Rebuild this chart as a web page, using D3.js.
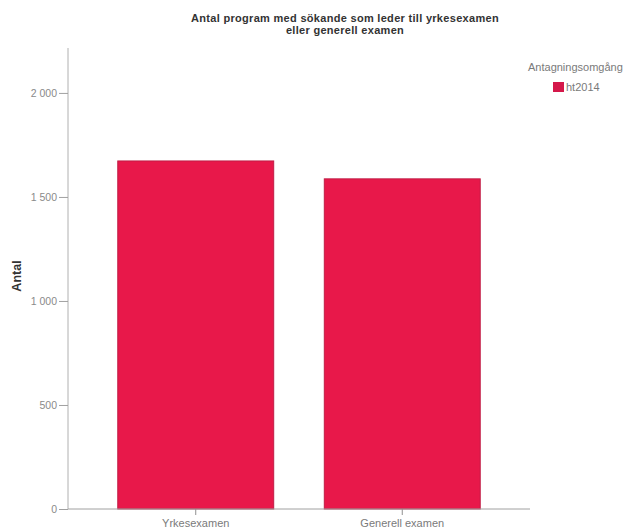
<!DOCTYPE html>
<html><head><meta charset="utf-8">
<script src="https://cdn.jsdelivr.net/npm/d3@7"></script>
<style>body{margin:0;background:#fff}</style>
</head><body>
<svg id="c" width="632" height="532"></svg>
<script>
const categories = ["Yrkesexamen", "Generell examen"];
const values = [1673, 1587];
const yTicks = [0, 500, 1000, 1500, 2000];
const titleLines = ["Antal program med sökande som leder till yrkesexamen", "eller generell examen"];
const legendTitle = "Antagningsomgång";
const seriesName = "ht2014";
const yLabel = "Antal";

(function () {
const svg = d3.select("#c");
const font = "Liberation Sans, Arial, sans-serif";
const pLeft = 68, pRight = 530, pTop = 48, pBottom = 509;

const x = d3.scaleBand().domain(categories).range([pLeft, pRight]).paddingInner(0.245).paddingOuter(0.241);
const y = d3.scaleLinear().domain([0, 2216]).range([pBottom, pTop]);
const fmt = d => d3.format(",")(d).replace(/,/g, " ");

// bars
svg.append("g").selectAll("rect").data(values).join("rect")
  .attr("x", (d, i) => x(categories[i]))
  .attr("y", d => y(d))
  .attr("width", x.bandwidth())
  .attr("height", d => y(0) - y(d))
  .attr("fill", "#e8184a")
  .attr("stroke", "#c01d45").attr("stroke-width", 1);

// y axis
const ya = svg.append("g").attr("transform", `translate(${pLeft},0)`)
  .call(d3.axisLeft(y).tickValues(yTicks).tickFormat(fmt).tickSize(9).tickPadding(2));
ya.select(".domain").attr("stroke", "#b0b0b0").attr("d", `M0,${pBottom}V${pTop}`);
ya.selectAll(".tick line").attr("stroke", "#a0a0a0");
ya.selectAll(".tick text").attr("fill", "#8a8a8a").attr("font-family", font).attr("font-size", 10.5);

// x axis
const xa = svg.append("g").attr("transform", `translate(0,${pBottom})`)
  .call(d3.axisBottom(x).tickSize(6).tickPadding(4).tickSizeOuter(0));
xa.select(".domain").attr("stroke", "#a0a0a0").attr("d", `M${pLeft},0H${pRight}`);
xa.selectAll(".tick line").attr("stroke", "#909090");
xa.selectAll(".tick text").attr("fill", "#7a7a7a").attr("font-family", font).attr("font-size", 11);

// title
svg.append("g").selectAll("text").data(titleLines).join("text")
  .attr("x", 345).attr("y", (d, i) => 22 + i * 12)
  .attr("text-anchor", "middle").attr("font-family", font).attr("font-size", 11)
  .attr("letter-spacing", 0.3)
  .attr("font-weight", "bold").attr("fill", "#333").text(d => d);

// y label
svg.append("text").attr("transform", "translate(21,276) rotate(-90)")
  .attr("text-anchor", "middle").attr("font-family", font).attr("font-size", 12.5)
  .attr("font-weight", "bold").attr("fill", "#333").text(yLabel);

// legend
svg.append("text").attr("x", 528).attr("y", 71).attr("font-family", font).attr("font-size", 11)
  .attr("fill", "#7a7a7a").text(legendTitle);
svg.append("rect").attr("x", 553).attr("y", 82).attr("width", 11).attr("height", 10)
  .attr("fill", "#d4184a");
svg.append("text").attr("x", 566).attr("y", 91).attr("font-family", font).attr("font-size", 11)
  .attr("fill", "#7a7a7a").text(seriesName);
})();
</script>
</body></html>
